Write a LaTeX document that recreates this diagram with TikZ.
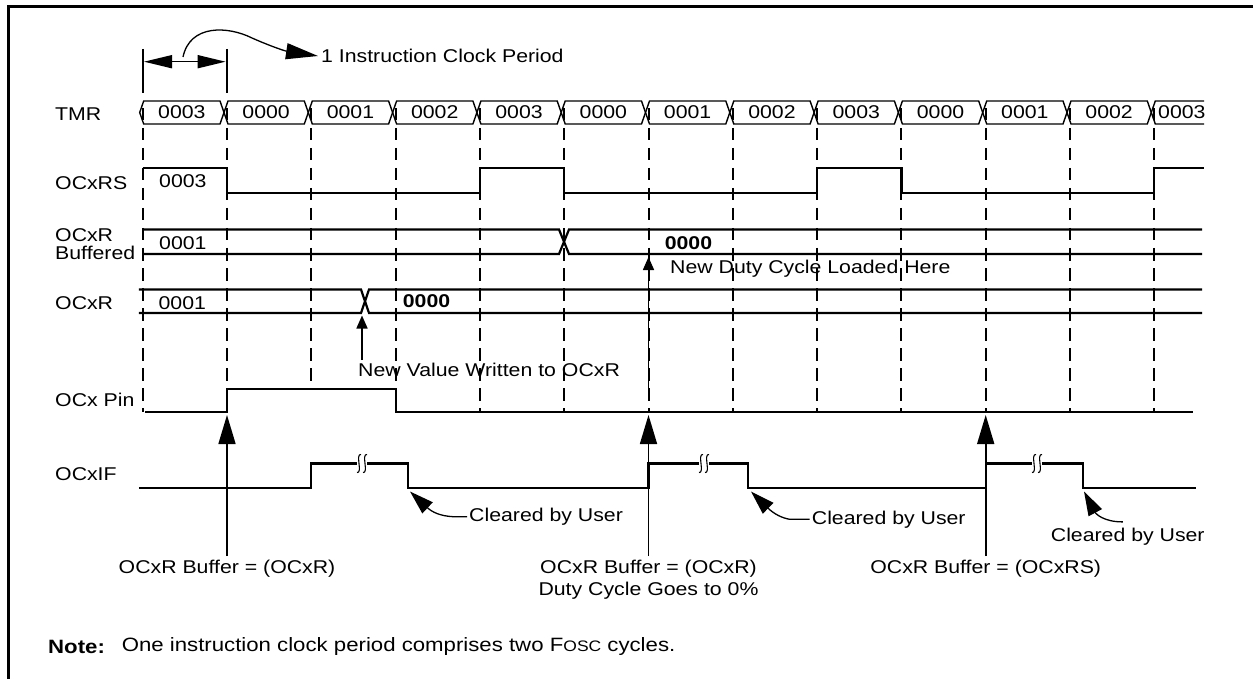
\documentclass[tikz,border=0pt]{standalone}
\usepackage{fontspec}
\setmainfont{Liberation Sans}[FakeStretch=1.15]
\usetikzlibrary{arrows.meta}

\begin{document}
\begin{tikzpicture}[%
    x=1pt,
    y=-1pt,
    sig/.style={line width=2.2pt},
    bus/.style={line width=1.4pt},
    gridline/.style={line width=2pt, dash pattern=on 12.5pt off 7.5pt},
    lbl/.style={anchor=west, inner sep=0pt, font=\fontsize{18.5}{22}\selectfont},
    bval/.style={lbl, font=\fontsize{18.5}{22}\selectfont\bfseries},
    note/.style={anchor=north, inner sep=0pt, align=center, font=\fontsize{18.5}{22}\selectfont},
    bigarrow/.style={line width=1.6pt, -{Triangle[length=29pt,width=17pt]}},
    smallarrow/.style={line width=1.6pt, -{Triangle[length=13pt,width=11pt]}},
    userarrow/.style={line width=1.3pt, -{Triangle[length=24pt,width=15pt]}},
    brk/.pic={%
      \draw[line width=1.1pt] (-1,-9) .. controls (-7,-10) and (1,10) .. (-5,9);
      \draw[line width=1.1pt] (5,-9) .. controls (-1,-10) and (7,10) .. (1,9);
    }
  ]
    \useasboundingbox (0,0) rectangle (1253,679);

    % frame
    \draw[line width=3pt] (8,679) -- (8,7) -- (1253,7);

    % one clock period
    \draw[line width=1.6pt] (142.7,49) -- (142.7,93) (227,49) -- (227,93);
    \draw[line width=1.6pt, {Triangle[length=28pt,width=13pt]}-{Triangle[length=28pt,width=13pt]}] (144,61.7) -- (225.6,61.7);
    \node[lbl] (clk) at (321,56) {1 Instruction Clock Period};
    \draw[line width=1.3pt, -{Triangle[length=32pt,width=16pt]}] (183,57) .. controls (190,24) and (228,26) .. (252,38) .. controls (270,46) and (285,51) .. ([xshift=-3pt]clk.west);

    % signal names
    \node[lbl] (tmrlbl)  at (55,114)   {TMR};
    \node[lbl] (rslbl)   at (55,183)   {OCxRS};
    \node[lbl] (buflbla) at (55,235)   {OCxR};
    \node[lbl] (buflblb) at (55,253)   {Buffered};
    \node[lbl] (rlbl)    at (55,303)   {OCxR};
    \node[lbl] (pinlbl)  at (55,400)   {OCx Pin};
    \node[lbl] (iflbl)   at (55,474)   {OCxIF};

    % TMR bus
    \foreach \v [count=\i from 0] in {0003,0000,0001,0002,0003,0000,0001,0002,0003,0000,0001,0002} {
      \pgfmathsetmacro\xa{142.7+84.3*\i}
      \pgfmathsetmacro\xb{\xa+84.3}
      \draw[bus] ({\xa-3},112.5) -- ({\xa+1},101) -- ({\xb-7},101) -- ({\xb-3},112.5) -- ({\xb-7},124) -- ({\xa+1},124) -- cycle;
      \node[lbl, anchor=center] (tmr\i) at ({(\xa+\xb)/2-3},112.5) {\v};
    }
    \draw[bus] (1204,101) -- (1155.3,101) -- (1151.3,112.5) -- (1155.3,124) -- (1204,124);
    \node[lbl] (tmr12) at (1158,112.5) {0003};

    % dashed period lines
    \foreach \i/\e in {0/412,1/389,2/389,3/389,4/412,5/412,6/412,7/412,8/412,9/412,10/412,11/412,12/412}
      \draw[gridline] ({142.7+84.3*\i},108) -- ({142.7+84.3*\i},\e);

    % OCxRS
    \draw[sig] (142.7,168) -- (227,168) -- (227,193) -- (479.9,193) -- (479.9,168) -- (564.2,168) -- (564.2,193)
      -- (817.1,193) -- (817.1,168) -- (901.4,168) -- (901.4,193) -- (1154.3,193) -- (1154.3,168) -- (1204,168);
    \node[lbl] (rsval) at (159,181) {0003};

    % OCxR buffered
    \draw[sig] (142.7,229.5) -- (559,229.5) -- (569,254) -- (1202,254);
    \draw[sig] (142.7,254) -- (559,254) -- (569,229.5) -- (1202,229.5);
    \node[lbl]  (bufold) at (159,242.7) {0001};
    \node[bval] (bufnew) at (664.6,242.7) {0000};
    \node[lbl]  (duty)   at (670,268.3) {New Duty Cycle Loaded Here};
    \coordinate (dutyfoot) at (648.5,388);
    \draw[smallarrow] (dutyfoot) -- (648.5,257);

    % OCxR
    \draw[sig] (138.8,289.5) -- (361,289.5) -- (369,313) -- (1202,313);
    \draw[sig] (138.8,313) -- (361,313) -- (369,289.5) -- (1202,289.5);
    \node[lbl]  (rold) at (158.4,303) {0001};
    \node[bval] (rnew) at (402.7,301) {0000};
    \node[lbl]  (newval) at (358,370) {New Value Written to OCxR};
    \draw[smallarrow] ([xshift=4pt,yshift=3pt]newval.north west) -- (362,315.5);

    % OCx pin
    \draw[sig] (145,412) -- (227,412) -- (227,389) -- (395.6,389) -- (395.6,412) -- (1192.5,412);

    % OCxIF
    \draw[sig] (138.8,488) -- (311.3,488) -- (311.3,463.5) -- (357,463.5);
    \draw[sig] (367,463.5) -- (408,463.5) -- (408,488) -- (648.5,488) -- (648.5,463.5) -- (699,463.5);
    \draw[sig] (709,463.5) -- (748,463.5) -- (748,488) -- (985.7,488) -- (985.7,463.5) -- (1032,463.5);
    \draw[sig] (1042,463.5) -- (1083,463.5) -- (1083,488) -- (1196,488);
    \pic at (362,463.5) {brk};
    \pic at (704,463.5) {brk};
    \pic at (1037,463.5) {brk};

    % cleared by user
    \node[lbl] (clra) at (469,516.7) {Cleared by User};
    \node[lbl] (clrb) at (811.7,519.3) {Cleared by User};
    \node[lbl] (clrc) at (1050.7,536.7) {Cleared by User};
    \draw[userarrow] ([xshift=-2pt]clra.west) -- ++(-14,0) .. controls (440,516) and (432,512) .. (410,491.5);
    \draw[userarrow] ([xshift=-2pt]clrb.west) -- ++(-20,0) .. controls (782,518) and (774,514) .. (751,491.5);
    \draw[userarrow] ([xshift=-5pt,yshift=6pt]clrc.north) .. controls (1104,522) and (1096,514) .. (1084,491.5);

    % buffer loads
    \node[note] (bufa) at (227,560)   {OCxR Buffer = (OCxR)};
    \node[note] (bufb) at (648.5,560) {OCxR Buffer = (OCxR)\\Duty Cycle Goes to 0\%};
    \node[note] (bufc) at (985.7,560) {OCxR Buffer = (OCxRS)};
    \draw[bigarrow] ([yshift=4pt]bufa.north) -- (227,415);
    \draw[bigarrow] ([yshift=4pt]bufb.north) -- (648.5,415);
    \draw[bigarrow] ([yshift=4pt]bufc.north) -- (985.7,415);

    % note
    \node[bval, font=\fontsize{19.3}{22}\selectfont\bfseries] (notehd) at (48,646.7) {Note:};
    \node[lbl, font=\fontsize{19.3}{22}\selectfont] (notetx) at (121.6,646.7) {One instruction clock period comprises two F{\fontsize{15.2}{18}\selectfont OSC} cycles.};
\end{tikzpicture}
\end{document}
